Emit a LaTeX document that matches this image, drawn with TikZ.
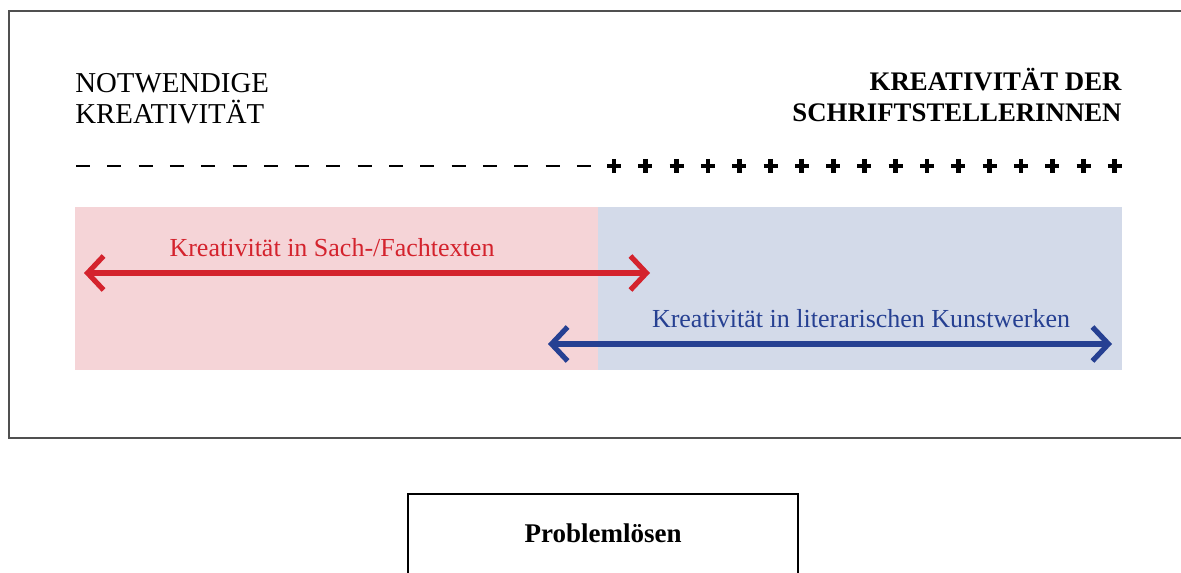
\documentclass[tikz,border=0pt]{standalone}
\usepackage{fontspec}
\setmainfont{Liberation Serif}
\usetikzlibrary{arrows.meta}
\definecolor{sachrot}{RGB}{212,35,45}
\definecolor{kunstblau}{RGB}{38,64,146}
\definecolor{sachfeld}{RGB}{245,212,215}
\definecolor{kunstfeld}{RGB}{211,218,233}
\definecolor{rahmengrau}{RGB}{80,80,80}
\tikzset{
  pol/.style={font=\fontsize{14.4}{15.5}\selectfont, align=left, inner sep=0pt},
  polfett/.style={font=\bfseries\fontsize{13.4}{15.5}\selectfont, align=right, inner sep=0pt},
  spanne/.style={line width=2.6pt, {Straight Barb[length=8pt,width=17pt]}-{Straight Barb[length=8pt,width=17pt]}},
  spannetext/.style={font=\fontsize{13}{15}\selectfont, inner sep=0pt, anchor=base}
}
\begin{document}
\begin{tikzpicture}[x=0.5pt, y=-0.5pt]
	\useasboundingbox (0,0) rectangle (1181,572);
	\draw[rahmengrau, line width=0.8pt] (9,11) rectangle (1190,438); %rahmen
	% farbfelder
	\fill[sachfeld] (75,207) rectangle (598,370);
	\fill[kunstfeld] (598,207) rectangle (1122,370);
	% pole
	\node[pol, anchor=north west] (notwendig) at (75,73) {NOTWENDIGE\\KREATIVITÄT};
	\node[polfett, anchor=north east] (schrift) at (1122,68) {KREATIVITÄT DER\\SCHRIFTSTELLERINNEN};
	% skala: minus und plus
	\foreach \i in {0,...,16}
		\draw[line width=0.7pt] (76+31.3*\i,166) -- (90+31.3*\i,166);
	\foreach \i in {0,...,16} {
		\draw[line width=2.4pt] (607+31.3*\i,166) -- (621+31.3*\i,166);
		\draw[line width=2.4pt] (614+31.3*\i,159) -- (614+31.3*\i,173);
	}
	% spannen
	\coordinate (sachL) at (84,273);
	\coordinate (sachR) at (650,273);
	\coordinate (kunstL) at (548,344);
	\coordinate (kunstR) at (1112,344);
	\draw[spanne, sachrot] (sachL) -- (sachR);
	\draw[spanne, kunstblau] (kunstL) -- (kunstR);
	\node[spannetext, sachrot] (sachtext) at (332,256) {Kreativität in Sach-/Fachtexten};
	\node[spannetext, kunstblau] (kunsttext) at (861,327) {Kreativität in literarischen Kunstwerken};
	% unten
	\draw[black, line width=0.6pt] (408,494) rectangle (798,600);
	\node[font=\bfseries\fontsize{13.5}{15}\selectfont, anchor=base] (problem) at (603,542) {Problemlösen};
\end{tikzpicture}
\end{document}
